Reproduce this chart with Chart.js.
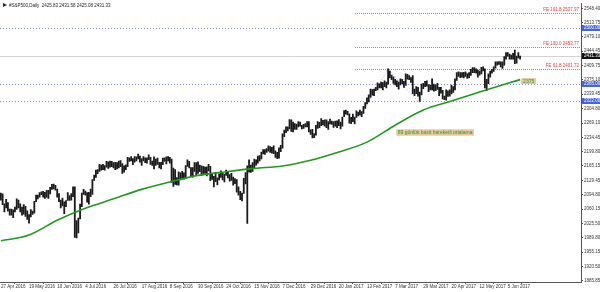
<!DOCTYPE html>
<html>
<head>
<meta charset="utf-8">
<script src="https://cdn.jsdelivr.net/npm/chart.js@4.4.0/dist/chart.umd.min.js"></script>
<style>
  html, body { margin: 0; padding: 0; background: #fff; }
  #wrap { width: 600px; height: 292px; }
</style>
</head>
<body>
<div id="wrap"><canvas id="chart" width="600" height="292"></canvas></div>
<script>
// x axis labels, one every 16 daily bars
const dateLabels = ["27 Apr 2016", "19 May 2016", "10 Jun 2016", "4 Jul 2016", "26 Jul 2016",
  "17 Aug 2016", "8 Sep 2016", "30 Sep 2016", "24 Oct 2016", "15 Nov 2016", "7 Dec 2016",
  "29 Dec 2016", "20 Jan 2017", "13 Feb 2017", "7 Mar 2017", "29 Mar 2017", "20 Apr 2017",
  "12 May 2017", "5 Jun 2017"];
const labelStep = 16;

const yTicks = [2548.40, 2513.75, 2479.10, 2444.45, 2409.75, 2375.10, 2339.45, 2304.80,
  2269.10, 2234.45, 2199.80, 2165.15, 2129.45, 2094.80, 2060.15, 2025.50, 1989.80,
  1955.15, 1920.50, 1885.85];

// daily highs / lows, S&P500 CFD, 27 Apr 2016 .. 14 Jun 2017
const highs = [
  2099,2097,2073,2084,2076,2060,2060,2058,2065,2085,
  2082,2073,2065,2071,2067,2056,2047,2059,2055,2079,
  2094,2094,2100,2102,2103,2101,2106,2106,2113,2120,
  2121,2118,2109,2098,2082,2087,2078,2081,2100,2093,
  2098,2114,2114,2032,2038,2072,2099,2108,2104,2100,
  2101,2109,2132,2143,2155,2156,2169,2167,2169,2166,
  2176,2175,2177,2176,2173,2174,2173,2177,2178,2171,
  2165,2168,2186,2185,2188,2183,2188,2187,2194,2189,
  2183,2188,2185,2185,2192,2186,2177,2187,2182,2184,
  2174,2174,2184,2185,2187,2188,2186,2182,2160,2156,
  2137,2151,2148,2152,2148,2166,2180,2176,2161,2161,
  2173,2173,2175,2167,2165,2164,2162,2163,2169,2164,
  2145,2140,2149,2136,2146,2153,2148,2145,2155,2152,
  2144,2147,2138,2134,2132,2114,2103,2099,2135,2149,
  2165,2180,2167,2173,2182,2180,2189,2190,2199,2205,
  2205,2207,2214,2212,2210,2214,2202,2198,2209,2215,
  2243,2252,2260,2260,2278,2277,2272,2268,2267,2273,
  2272,2264,2266,2268,2273,2273,2253,2254,2244,2264,
  2273,2271,2280,2276,2277,2277,2273,2279,2274,2273,
  2274,2275,2278,2272,2284,2300,2301,2298,2292,2283,
  2291,2284,2299,2296,2301,2297,2310,2319,2331,2338,
  2352,2351,2352,2356,2367,2365,2369,2368,2372,2369,
  2401,2396,2386,2382,2376,2372,2369,2377,2376,2371,
  2389,2388,2385,2380,2385,2352,2358,2356,2345,2364,
  2366,2371,2372,2363,2362,2377,2364,2362,2366,2356,
  2356,2349,2335,2350,2348,2350,2362,2358,2377,2392,
  2394,2392,2392,2393,2394,2390,2392,2400,2404,2404,
  2401,2398,2396,2405,2406,2401,2376,2389,2396,2400,
  2406,2418,2418,2419,2418,2418,2431,2441,2441,2437,
  2435,2439,2447,2432,2441,2432];
const lows = [
  2082,2071,2053,2063,2055,2045,2045,2039,2053,2059,
  2063,2053,2045,2048,2042,2035,2026,2041,2047,2050,
  2078,2085,2089,2095,2089,2086,2089,2086,2097,2108,
  2109,2106,2089,2078,2063,2068,2049,2066,2081,2081,
  2082,2090,1991,1990,2002,2036,2066,2096,2094,2077,
  2072,2090,2096,2130,2137,2146,2152,2155,2156,2155,
  2162,2159,2162,2163,2160,2156,2158,2160,2163,2147,
  2150,2156,2163,2176,2177,2168,2174,2177,2182,2174,
  2166,2177,2173,2172,2180,2169,2166,2158,2166,2169,
  2160,2158,2168,2176,2170,2177,2172,2125,2115,2120,
  2119,2118,2131,2134,2133,2134,2164,2160,2140,2138,
  2152,2142,2147,2151,2142,2146,2147,2141,2153,2129,
  2132,2114,2127,2119,2131,2137,2131,2126,2142,2136,
  2128,2130,2118,2122,2101,2094,2083,2080,2098,2121,
  2025,2150,2149,2152,2161,2167,2172,2177,2182,2194,
  2193,2198,2201,2198,2196,2195,2186,2183,2184,2200,
  2208,2236,2246,2250,2255,2249,2248,2254,2254,2260,
  2262,2255,2256,2260,2260,2248,2242,2233,2234,2240,
  2256,2258,2263,2265,2262,2258,2254,2267,2266,2259,
  2262,2258,2263,2255,2262,2285,2291,2289,2269,2268,
  2273,2268,2283,2287,2289,2285,2293,2305,2316,2321,
  2332,2337,2336,2348,2350,2355,2355,2350,2358,2355,
  2364,2379,2375,2366,2362,2358,2352,2362,2365,2356,
  2361,2376,2375,2368,2341,2336,2341,2335,2322,2338,
  2353,2358,2359,2346,2350,2350,2347,2348,2351,2336,
  2342,2328,2326,2325,2334,2335,2340,2344,2350,2373,
  2383,2380,2381,2379,2383,2378,2380,2385,2392,2392,
  2391,2381,2386,2389,2396,2355,2348,2365,2381,2391,
  2395,2403,2410,2412,2406,2402,2410,2425,2432,2425,
  2425,2425,2414,2415,2428,2425];

// 89 day simple moving average, read at every 16th bar
const maIdx = [0, 16, 32, 48, 64, 80, 96, 112, 128, 144, 160, 176, 192, 208, 224, 240, 256, 272, 288, 295];
const maVals = [1983, 1997, 2033, 2062, 2085, 2108, 2126, 2142, 2151, 2159, 2165, 2179, 2199, 2223, 2264, 2301, 2323, 2345, 2366, 2375];

// levels
const lastPrice = 2431.33;
const blueLevels = [2500.00, 2365.00, 2322.00];
const feRatios = ["161.8", "100.0", "61.8"];
const feValues = [2537.97, 2453.77, 2401.72];
const feIdx = [201, 220, 238];
const feVals = [2264.75, 2400.98, 2317.52];
const headerText = "#S&P500,Daily  2425.83 2431.58 2425.08 2431.33";
const maNote = "89 günlük basit hareketli ortalama";
const maNoteAt = { i: 224.6, v: 2247 };

const FONT = '"Liberation Sans", Arial, sans-serif';

const overlay = {
  id: "overlay",
  beforeDatasetsDraw(chart) {
    const { ctx, chartArea: a, scales: { x, y } } = chart;
    const hline = (v, x0, color, dash) => {
      const py = Math.round(y.getPixelForValue(v)) + 0.5;
      ctx.beginPath();
      ctx.setLineDash(dash);
      ctx.strokeStyle = color;
      ctx.lineWidth = 1;
      ctx.moveTo(Math.round(x0), py);
      ctx.lineTo(a.right, py);
      ctx.stroke();
    };
    ctx.save();
    hline(lastPrice, a.left, "#d2d2d2", []);
    blueLevels.forEach(v => hline(v, a.left, "#7c8cf4", [1, 2]));
    const feX = x.getPixelForValue(feIdx[0]);
    feValues.forEach(v => hline(v, feX, "#ff6060", [1, 1]));
    ctx.restore();
  },
  afterDraw(chart) {
    const { ctx, chartArea: a, scales: { x, y } } = chart;
    ctx.save();
    ctx.setLineDash([]);
    // fibo expansion labels
    ctx.font = "4.5px " + FONT;
    ctx.fillStyle = "#ff3030";
    ctx.textAlign = "right";
    ctx.textBaseline = "bottom";
    feValues.forEach((v, k) => {
      const py = y.getPixelForValue(v);
      ctx.fillText("FE " + feRatios[k] + " " + v.toFixed(2), a.right - 2, py - 1);
    });
    // price boxes on the right axis
    const box = (v, bg) => {
      const py = y.getPixelForValue(v);
      ctx.fillStyle = bg;
      ctx.fillRect(a.right + 1, Math.round(py) - 3, 19, 6);
      ctx.fillStyle = "#fff";
      ctx.textAlign = "left";
      ctx.textBaseline = "middle";
      ctx.font = "4.5px " + FONT;
      ctx.fillText(v.toFixed(2), a.right + 3, Math.round(py));
    };
    blueLevels.forEach(v => box(v, "#4463dd"));
    box(lastPrice, "#111");
    // MA value tag
    const lastI = maIdx[maIdx.length - 1];
    const lastV = maVals[maVals.length - 1];
    const mx = x.getPixelForValue(lastI) + 1;
    const my = y.getPixelForValue(lastV);
    ctx.font = "5px " + FONT;
    ctx.fillStyle = "#e6c99c";
    ctx.fillRect(mx, my - 1.5, 15, 6);
    ctx.fillStyle = "#2f9a2f";
    ctx.textAlign = "left";
    ctx.textBaseline = "middle";
    ctx.fillText(String(lastV), mx + 2, my + 1.5);
    // MA note
    const nx = x.getPixelForValue(maNoteAt.i);
    const ny = y.getPixelForValue(maNoteAt.v);
    const w = ctx.measureText(maNote).width;
    ctx.fillStyle = "#e6c99c";
    ctx.fillRect(nx, ny - 3, w + 3, 6.5);
    ctx.fillStyle = "#2f9a2f";
    ctx.fillText(maNote, nx + 1.5, ny + 0.3);
    // header
    ctx.fillStyle = "#222";
    ctx.beginPath();
    ctx.moveTo(3, 3); ctx.lineTo(7, 5); ctx.lineTo(3, 7); ctx.closePath();
    ctx.fill();
    ctx.font = "4.5px " + FONT;
    ctx.fillText(headerText, 9, 5.5);
    ctx.restore();
  }
};

const barData = highs.map((h, i) => ({ x: i, y: [lows[i], h] }));
const maData = maIdx.map((i, k) => ({ x: i, y: maVals[k] }));
const feData = feIdx.map((i, k) => ({ x: i, y: feVals[k] }));

new Chart(document.getElementById("chart"), {
  type: "bar",
  data: {
    datasets: [
      {
        type: "line",
        data: feData,
        borderColor: "#9aa6ee",
        borderWidth: 0.8,
        borderDash: [1, 1.5],
        pointRadius: 0,
        order: 3
      },
      {
        data: barData,
        backgroundColor: "#1a1a1a",
        borderWidth: 0,
        barThickness: 1.15,
        grouped: false,
        order: 2
      },
      {
        type: "line",
        data: maData,
        borderColor: "#1f9a1f",
        borderWidth: 1.6,
        pointRadius: 0,
        cubicInterpolationMode: "monotone",
        order: 1
      }
    ]
  },
  options: {
    responsive: false,
    animation: false,
    devicePixelRatio: 1,
    layout: { padding: 0 },
    plugins: { legend: { display: false }, tooltip: { enabled: false } },
    scales: {
      x: {
        type: "linear",
        min: -0.5,
        max: 329.6,
        offset: false,
        grid: { drawOnChartArea: false, drawTicks: true, tickLength: 2, color: "#555" },
        border: { display: true, color: "#555" },
        afterBuildTicks: (axis) => {
          axis.ticks = dateLabels.map((_, k) => ({ value: k * labelStep }));
        },
        afterFit: (axis) => { axis.height = 10; },
        ticks: {
          autoSkip: false,
          maxRotation: 0,
          align: "start",
          padding: 0,
          color: "#333",
          font: { size: 4.5, family: FONT },
          callback: (v) => dateLabels[Math.round(v / labelStep)]
        }
      },
      y: {
        position: "right",
        min: 1882.7,
        max: 2559.7,
        grid: { drawOnChartArea: false, drawTicks: true, tickLength: 2, color: "#555" },
        border: { display: true, color: "#555" },
        afterBuildTicks: (axis) => {
          axis.ticks = yTicks.map(v => ({ value: v }));
        },
        afterFit: (axis) => { axis.width = 19; },
        ticks: {
          autoSkip: false,
          padding: 1,
          color: "#333",
          font: { size: 4.5, family: FONT },
          callback: (v) => Number(v).toFixed(2)
        }
      }
    }
  },
  plugins: [overlay]
});
</script>
</body>
</html>
